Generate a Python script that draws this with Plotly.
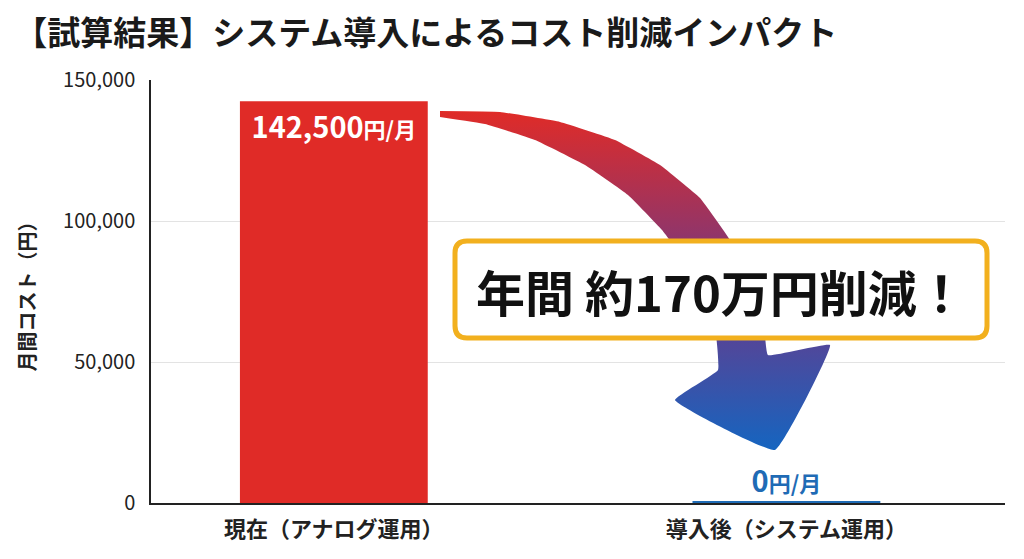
import plotly.graph_objects as go

categories = ["現在（アナログ運用）", "導入後（システム運用）"]
values = [142500, 0]
bar_colors = ["#E02B27", "#1F6BB5"]
text_colors = ["white", "#1F6BB5"]
y_ticks = [0, 50000, 100000, 150000]
title = "【試算結果】システム導入によるコスト削減インパクト"
ytitle = "月間コスト（円）"
callout = "年間 約170万円削減！"

texts = [f"<b>{v:,}<span style='font-size:22px'>円/月</span></b>" for v in values]

fig = go.Figure()
fig.add_bar(x=categories, y=values, width=0.415, marker=dict(color=bar_colors, line=dict(color=bar_colors, width=[0, 4])),
            text=texts, textposition=["inside", "outside"], insidetextanchor="end",
            textfont=dict(size=29, color=text_colors, family="Noto Sans CJK JP"), cliponaxis=False)

# decorative arrow in pixel-like overlay coordinates
ax = [440, 500, 560, 615, 660, 700, 730, 752, 764, 768, 830, 775, 675, 718, 716, 706, 688, 662, 628, 585, 535, 485, 440]
ay = [111, 112, 122, 140, 165, 198, 240, 285, 325, 355, 345, 450, 400, 370, 335, 300, 265, 230, 195, 165, 140, 124, 117]
fig.add_scatter(x=ax, y=ay, xaxis="x2", yaxis="y2", mode="lines", line=dict(width=0, shape="spline", smoothing=0.3),
                fill="toself", fillgradient=dict(type="vertical", colorscale=[[0, "#1565C0"], [0.45, "#6A3A8A"], [1, "#E02B27"]]),
                hoverinfo="skip", showlegend=False)

fig.add_shape(type="path", xref="x2", yref="y2",
              path="M 467 241 L 975 241 Q 987 241 987 253 L 987 326 Q 987 338 975 338 L 467 338 Q 455 338 455 326 L 455 253 Q 455 241 467 241 Z",
              fillcolor="white", line=dict(color="#F2B01E", width=5), layer="above")
fig.add_annotation(x=721, y=290, xref="x2", yref="y2", text=f"<b>{callout}</b>", showarrow=False,
                   font=dict(size=49, color="#111", family="Noto Sans CJK JP"))

fig.update_layout(
    width=1024, height=559, margin=dict(l=143, r=27, t=72, b=64, autoexpand=False),
    paper_bgcolor="white", plot_bgcolor="white", showlegend=False,
    font=dict(family="Noto Sans CJK JP", color="#222"),
    title=dict(text=f"<b>{title}</b>", x=0.006, xanchor="left", y=0.955, yanchor="middle", font=dict(size=33, color="#1a1a1a")),
    xaxis=dict(showgrid=False, showline=True, linecolor="#222", linewidth=1.5, automargin=False,
               range=[-0.404, 1.483],
               tickvals=categories, ticktext=[f"<b>{c}</b>" for c in categories],
               tickfont=dict(size=22, color="#222"), ticklabelstandoff=6),
    yaxis=dict(range=[0, 150000], tickvals=y_ticks, tickformat=",", gridcolor="#E3E3E3", automargin=False,
               showline=True, linecolor="#222", linewidth=1.5, zeroline=False,
               tickfont=dict(size=20, color="#222"), ticklabelstandoff=10,
               title=dict(text=f"<b>{ytitle}</b>", font=dict(size=20), standoff=22)),
    xaxis2=dict(overlaying="x", range=[151, 1005], visible=False, fixedrange=True),
    yaxis2=dict(overlaying="y", range=[503, 80], visible=False, fixedrange=True),
)
fig.write_html("out.html")
